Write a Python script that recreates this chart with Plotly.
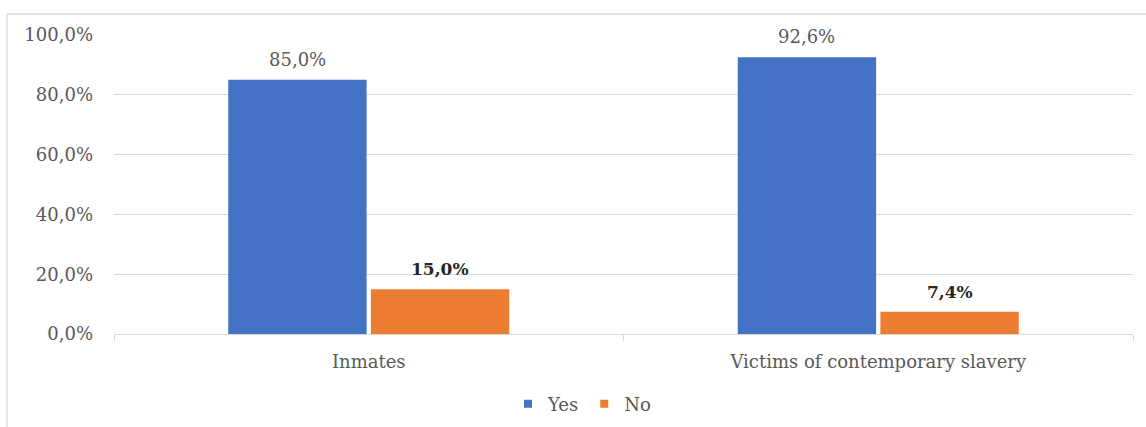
import plotly.graph_objects as go

categories = ["Inmates", "Victims of contemporary slavery"]
yes_values = [0.850, 0.926]
no_values = [0.150, 0.074]
y_ticks = [0, 0.2, 0.4, 0.6, 0.8, 1.0]

BLUE = "#4472C4"
ORANGE = "#ED7D31"
GRID = "#D9D9D9"
TXT = "#595959"
FONT = "DejaVu Serif"

BARGAP = 0.44
BARGROUPGAP = 0.03

fig = go.Figure()
fig.add_trace(go.Bar(name="Yes", x=categories, y=yes_values, marker=dict(color=BLUE, line=dict(width=0)),
                     showlegend=False))
fig.add_trace(go.Bar(name="No", x=categories, y=no_values, marker=dict(color=ORANGE, line=dict(width=0)),
                     showlegend=False))
# legend entries with small square keys
for name, col in (("Yes", BLUE), ("No", ORANGE)):
    fig.add_trace(go.Scatter(name=name, x=[None], y=[None], mode="markers",
                             marker=dict(symbol="square", size=8, color=col), showlegend=True))

# data labels above bars
off = (1 - BARGAP) / 4
for i, v in enumerate(yes_values):
    fig.add_annotation(x=i - off, y=v, xref="x", yref="y", text=f"{v*100:.1f}%".replace(".", ","),
                       showarrow=False, yanchor="bottom", yshift=8,
                       font=dict(family=FONT, size=18, color=TXT))
for i, v in enumerate(no_values):
    fig.add_annotation(x=i + off, y=v, xref="x", yref="y", text=f"<b>{v*100:.1f}%</b>".replace(".", ","),
                       showarrow=False, yanchor="bottom", yshift=8,
                       font=dict(family=FONT, size=17, color="#262626"))

# outer chart border
L, R, T, B = 114, 13, 35, 93
W, H = 1146, 427
pw, ph = W - L - R, H - T - B
fig.add_shape(type="rect", xref="paper", yref="paper",
              x0=(7 - L) / pw, x1=(W + 5 - L) / pw,
              y0=-(H + 5 - (H - B)) / ph, y1=1 + (T - 14) / ph,
              line=dict(color=GRID, width=1.3), fillcolor="rgba(0,0,0,0)", layer="below")

fig.update_layout(
    width=W, height=H,
    margin=dict(l=L, r=R, t=T, b=B, autoexpand=False),
    paper_bgcolor="white", plot_bgcolor="white",
    barmode="group", bargap=BARGAP, bargroupgap=BARGROUPGAP,
    separators=",.",
    font=dict(family=FONT, size=18, color=TXT),
    showlegend=True,
    legend=dict(orientation="h", x=(582 - L) / pw, xanchor="center", y=-(404 - (H - B)) / ph, yanchor="middle",
                font=dict(family=FONT, size=18, color=TXT), traceorder="normal", itemwidth=30),
    xaxis=dict(type="category", range=[-0.5, 1.5], showgrid=False, showline=True, linecolor=GRID, linewidth=1.3,
               ticks="outside", tickson="boundaries", ticklen=6, tickcolor=GRID, automargin=False,
               tickfont=dict(family=FONT, size=18, color=TXT), ticklabelstandoff=11),
    yaxis=dict(range=[0, 1.0], tickvals=y_ticks, tickformat=".1%", showgrid=True, gridcolor=GRID, gridwidth=1.3,
               zeroline=False, showline=False, ticks="", automargin=False,
               tickfont=dict(family=FONT, size=18, color=TXT), ticklabelstandoff=20),
)

fig.write_html("out.html")
